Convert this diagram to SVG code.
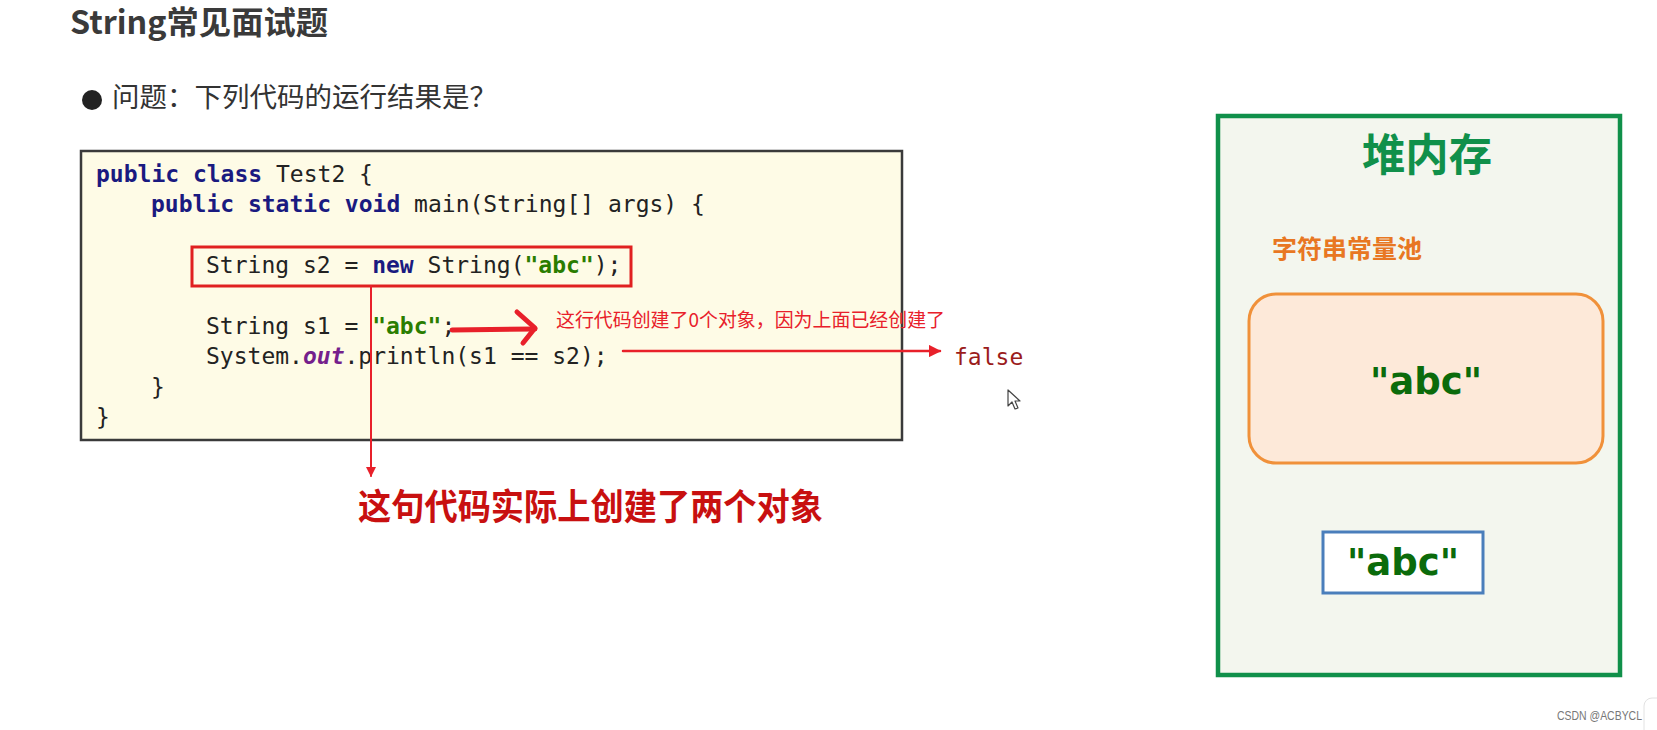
<svg xmlns="http://www.w3.org/2000/svg" width="1657" height="730" viewBox="0 0 1657 730">
<style>
.code{font-family:"DejaVu Sans Mono","Liberation Mono",monospace;font-size:23px;fill:#222}
.kw{font-weight:bold;fill:#1a1a80}
.str{font-weight:bold;fill:#2a7d00}
.fld{font-weight:bold;font-style:italic;fill:#751f8c}
.cjk{font-family:"Noto Sans CJK SC","Noto Sans",sans-serif}
.abc{font-family:"DejaVu Sans",sans-serif;font-weight:bold;font-size:38px;fill:#0b6b0b}
</style>
<defs>
<marker id="tri" viewBox="0 0 10 10" refX="9" refY="5" markerWidth="5" markerHeight="5" orient="auto" markerUnits="strokeWidth">
<path d="M0,0 L10,5 L0,10 z" fill="#e8202a"/>
</marker>
</defs>
<rect width="1657" height="730" fill="#ffffff"/>

<g id="title">
<text x="70" y="34" class="cjk" font-size="32" font-weight="bold" fill="#3a3a3a" textLength="258" lengthAdjust="spacingAndGlyphs">String常见面试题</text>
</g>
<g id="question">
<circle cx="92" cy="100" r="10" fill="#222"/>
<text x="112" y="107" class="cjk" font-size="27" fill="#333" textLength="385" lengthAdjust="spacingAndGlyphs">问题：下列代码的运行结果是？</text>
</g>

<g id="code-box">
<rect x="81" y="151" width="821" height="289" fill="#fefbe6" stroke="#3a3a3a" stroke-width="2.5"/>
<text class="code" xml:space="preserve"><tspan x="96" y="182"><tspan class="kw">public class</tspan> Test2 {</tspan><tspan x="151" y="212"><tspan class="kw">public static void</tspan> main(String[] args) {</tspan><tspan x="206" y="273">String s2 = <tspan class="kw">new</tspan> String(<tspan class="str">"abc"</tspan>);</tspan><tspan x="206" y="334">String s1 = <tspan class="str">"abc"</tspan>;</tspan><tspan x="206" y="364">System.<tspan class="fld">out</tspan>.println(s1 == s2);</tspan><tspan x="151" y="395">}</tspan><tspan x="96" y="425">}</tspan></text>
<rect x="192" y="247" width="439" height="39" fill="none" stroke="#e02020" stroke-width="3"/>
</g>

<g id="connectors" fill="none" stroke="#e8202a" stroke-linecap="round" stroke-linejoin="round">
<line x1="371" y1="286" x2="371" y2="476" stroke-width="2" marker-end="url(#tri)"/>
<path d="M452,330 L535,329" stroke-width="5"/>
<path d="M517,312 L535,328 L523,343" stroke-width="5"/>
<line x1="623" y1="351" x2="940" y2="351" stroke-width="2.5" marker-end="url(#tri)"/>
</g>

<g id="note-zero">
<text x="556" y="327" class="cjk" font-size="19" fill="#e8202a" textLength="389" lengthAdjust="spacingAndGlyphs">这行代码创建了0个对象，因为上面已经创建了</text>
</g>
<g id="result">
<text x="954" y="365" font-family="DejaVu Sans Mono,Liberation Mono,monospace" font-size="23" fill="#9b1c1c">false</text>
</g>
<g id="note-two">
<text x="358" y="520" class="cjk" font-size="36" font-weight="bold" fill="#c81010" textLength="465" lengthAdjust="spacingAndGlyphs">这句代码实际上创建了两个对象</text>
</g>

<g id="cursor">
<path d="M1008,390 L1008,406 L1012,402 L1015,409 L1018,408 L1015,401 L1020,401 Z" fill="#ffffff" stroke="#444" stroke-width="1.2" stroke-linejoin="round"/>
</g>

<g id="heap">
<rect x="1218" y="116" width="402" height="559" fill="#f3f6ee" stroke="#10904a" stroke-width="4.5"/>
<text x="1362" y="171" class="cjk" font-size="44" font-weight="bold" fill="#10904a" textLength="130" lengthAdjust="spacingAndGlyphs">堆内存</text>
</g>
<g id="pool">
<text x="1272" y="258" class="cjk" font-size="25" font-weight="bold" fill="#e87722" textLength="150" lengthAdjust="spacingAndGlyphs">字符串常量池</text>
<rect x="1249" y="294" width="354" height="169" rx="27" ry="27" fill="#fde9d9" stroke="#f0913a" stroke-width="3"/>
<text x="1370" y="394" class="abc" textLength="112" lengthAdjust="spacingAndGlyphs">"abc"</text>
</g>
<g id="heap-object">
<rect x="1323" y="532" width="160" height="61" fill="#ffffff" stroke="#4a7ebb" stroke-width="3"/>
<text x="1347" y="575" class="abc" textLength="112" lengthAdjust="spacingAndGlyphs">"abc"</text>
</g>

<g id="watermark">
<text x="1557" y="720" font-family="Liberation Sans,Arial,sans-serif" font-size="12.5" fill="#777" textLength="85" lengthAdjust="spacingAndGlyphs">CSDN @ACBYCL</text>
<rect x="1644" y="698" width="30" height="40" rx="8" fill="#ffffff" stroke="#e2e2e2" stroke-width="1"/>
</g>
</svg>
